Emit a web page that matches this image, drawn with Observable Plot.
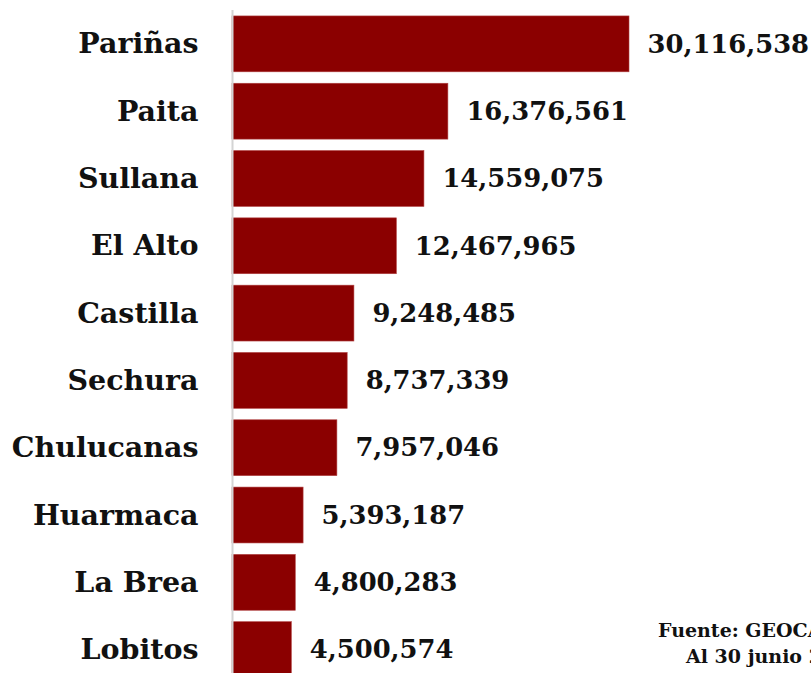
<!DOCTYPE html>
<html>
<head>
<meta charset="utf-8">
<script src="https://cdn.jsdelivr.net/npm/d3@7"></script>
<script src="https://cdn.jsdelivr.net/npm/@observablehq/plot@0.6"></script>
<style>
  html, body { margin: 0; padding: 0; background: #fff; }
  #wrap { position: relative; width: 811px; height: 673px; overflow: hidden; }
  .note { position: absolute; font-family: "DejaVu Serif", serif; font-weight: bold;
          font-size: 19px; line-height: 22px; color: #111; white-space: nowrap; }
</style>
</head>
<body>
<div id="wrap">
  <div id="chart"></div>
  <div class="note" style="left:658px; top:619px;">Fuente: GEOCATMIN</div>
  <div class="note" style="left:686px; top:645px;">Al 30 junio 2023</div>
</div>
<script>
const districts = ["Pariñas", "Paita", "Sullana", "El Alto", "Castilla", "Sechura", "Chulucanas", "Huarmaca", "La Brea", "Lobitos"];
const amounts = [30116538, 16376561, 14559075, 12467965, 9248485, 8737339, 7957046, 5393187, 4800283, 4500574];

const data = districts.map((d, i) => ({district: d, value: amounts[i]}));
const fmt = d3.format(",");

const chart = Plot.plot({
  width: 811,
  height: 673,
  marginLeft: 232,
  marginRight: 182,
  marginTop: 10,
  marginBottom: 0,
  style: {fontFamily: "'DejaVu Serif', serif", background: "#fff"},
  x: {domain: [0, 30116538], range: [232, 629], axis: null},
  y: {domain: districts, range: [4.5, 689], padding: 0.17, round: false, label: null},
  marks: [
    Plot.barX(data, {x: "value", y: "district", fill: "#8b0000", stroke: "#b04040", strokeWidth: 0.6}),
    Plot.ruleX([0], {stroke: "#d4d4d4", strokeWidth: 2}),
    Plot.text(data, {x: "value", y: "district", text: d => fmt(d.value), dx: 18, textAnchor: "start",
      fontSize: 25.8, fontWeight: "bold", fill: "#111"}),
    Plot.axisY({tickSize: 0, tickPadding: 34, fontSize: 28.5, fontWeight: "bold", fill: "#111"})
  ]
});
document.getElementById("chart").appendChild(chart);
</script>
</body>
</html>
